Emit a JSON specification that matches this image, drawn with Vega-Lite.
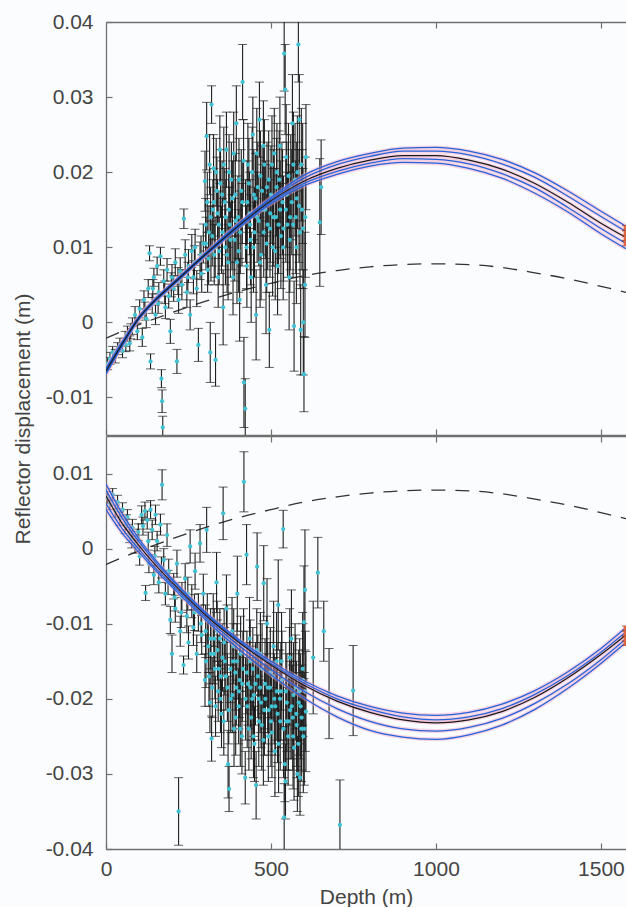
{
"$schema": "https://vega.github.io/schema/vega-lite/v6.json",
"background": "#fbfcfd",
"padding": {"left": 13, "top": 11, "right": 0, "bottom": 0},
"spacing": -3,
"title": {"text": "Reflector displacement (m)", "orient": "left", "anchor": "middle", "frame": "bounds", "fontSize": 21, "font": "Liberation Sans", "fontWeight": "normal", "color": "#444444", "offset": 11, "dx": 40},
"datasets": {
"ptsT": [{"d":5,"v":-0.0055,"e":0.0008},{"d":12,"v":-0.0048,"e":0.0008},{"d":20,"v":-0.004,"e":0.0008},{"d":28,"v":-0.0045,"e":0.0009},{"d":35,"v":-0.0035,"e":0.0008},{"d":42,"v":-0.003,"e":0.0009},{"d":50,"v":-0.0038,"e":0.0009},{"d":58,"v":-0.0022,"e":0.001},{"d":60,"v":-0.003,"e":0.0009},{"d":65,"v":-0.0015,"e":0.001},{"d":72,"v":-0.0028,"e":0.001},{"d":75,"v":-0.0012,"e":0.001},{"d":80,"v":-0.0005,"e":0.0011},{"d":88,"v":0.001,"e":0.0011},{"d":95,"v":-0.0012,"e":0.0011},{"d":102,"v":0.0018,"e":0.0012},{"d":110,"v":-0.002,"e":0.0012},{"d":115,"v":0.003,"e":0.0012},{"d":118,"v":0.0015,"e":0.0012},{"d":122,"v":0.0005,"e":0.0012},{"d":128,"v":0.0045,"e":0.0012},{"d":132,"v":0.0092,"e":0.001},{"d":135,"v":-0.0052,"e":0.001},{"d":140,"v":0.0025,"e":0.0013},{"d":142,"v":0.0045,"e":0.0012},{"d":145,"v":0.006,"e":0.0012},{"d":150,"v":0.001,"e":0.0013},{"d":155,"v":0.0075,"e":0.0012},{"d":158,"v":0.0025,"e":0.0013},{"d":160,"v":0.004,"e":0.0013},{"d":165,"v":0.0088,"e":0.0012},{"d":168,"v":-0.0075,"e":0.0012},{"d":170,"v":-0.0105,"e":0.0015},{"d":172,"v":-0.014,"e":0.0015},{"d":175,"v":0.0055,"e":0.0015},{"d":178,"v":0.004,"e":0.0015},{"d":180,"v":0.002,"e":0.0015},{"d":185,"v":0.007,"e":0.0015},{"d":190,"v":0.0035,"e":0.0016},{"d":195,"v":-0.0012,"e":0.0016},{"d":198,"v":0.005,"e":0.0016},{"d":200,"v":0.006,"e":0.0017},{"d":205,"v":0.0045,"e":0.0017},{"d":210,"v":0.008,"e":0.0018},{"d":215,"v":-0.0052,"e":0.0016},{"d":218,"v":0.0055,"e":0.0018},{"d":220,"v":0.003,"e":0.0018},{"d":225,"v":0.0068,"e":0.0018},{"d":230,"v":0.005,"e":0.002},{"d":236,"v":0.0138,"e":0.0013},{"d":240,"v":0.009,"e":0.002},{"d":245,"v":0.004,"e":0.002},{"d":248,"v":0.006,"e":0.002},{"d":250,"v":0.0075,"e":0.0022},{"d":255,"v":0.001,"e":0.002},{"d":260,"v":0.0095,"e":0.0022},{"d":265,"v":0.006,"e":0.0022},{"d":268,"v":0.008,"e":0.0022},{"d":270,"v":0.01,"e":0.0024},{"d":275,"v":0.0045,"e":0.0024},{"d":280,"v":-0.003,"e":0.0022},{"d":285,"v":0.0082,"e":0.0025},{"d":288,"v":0.009,"e":0.0025},{"d":290,"v":0.0065,"e":0.0025},{"d":295,"v":0.0105,"e":0.0026},{"d":300,"v":0.0188,"e":0.004},{"d":302,"v":0.013,"e":0.0035},{"d":305,"v":0.0248,"e":0.0045},{"d":308,"v":0.007,"e":0.003},{"d":312,"v":0.012,"e":0.0035},{"d":316,"v":-0.004,"e":0.004},{"d":318,"v":0.0095,"e":0.004},{"d":320,"v":0.029,"e":0.0025},{"d":324,"v":0.015,"e":0.004},{"d":326,"v":0.0205,"e":0.0045},{"d":328,"v":0.009,"e":0.004},{"d":332,"v":-0.005,"e":0.0035},{"d":336,"v":0.0175,"e":0.0045},{"d":340,"v":0.006,"e":0.004},{"d":342,"v":0.013,"e":0.0045},{"d":345,"v":0.023,"e":0.0045},{"d":350,"v":0.011,"e":0.0045},{"d":352,"v":0.017,"e":0.0045},{"d":355,"v":0.002,"e":0.005},{"d":360,"v":0.016,"e":0.0045},{"d":362,"v":0.01,"e":0.005},{"d":365,"v":0.023,"e":0.005},{"d":370,"v":0.008,"e":0.005},{"d":372,"v":0.015,"e":0.005},{"d":375,"v":0.013,"e":0.005},{"d":380,"v":0.019,"e":0.005},{"d":382,"v":0.012,"e":0.005},{"d":385,"v":0.006,"e":0.005},{"d":390,"v":0.011,"e":0.0055},{"d":392,"v":0.017,"e":0.0055},{"d":395,"v":0.0265,"e":0.005},{"d":400,"v":0.014,"e":0.0055},{"d":402,"v":0.0095,"e":0.0055},{"d":405,"v":0.003,"e":0.0055},{"d":410,"v":0.0175,"e":0.0055},{"d":412,"v":0.013,"e":0.0055},{"d":414,"v":0.032,"e":0.005},{"d":418,"v":-0.008,"e":0.006},{"d":422,"v":-0.0115,"e":0.004},{"d":426,"v":0.01,"e":0.0055},{"d":428,"v":0.016,"e":0.0055},{"d":430,"v":0.021,"e":0.0055},{"d":435,"v":0.0145,"e":0.0055},{"d":438,"v":0.011,"e":0.006},{"d":440,"v":0.006,"e":0.006},{"d":445,"v":0.025,"e":0.005},{"d":448,"v":0.017,"e":0.006},{"d":450,"v":0.012,"e":0.006},{"d":455,"v":0.001,"e":0.006},{"d":458,"v":0.014,"e":0.006},{"d":460,"v":0.018,"e":0.006},{"d":465,"v":0.027,"e":0.005},{"d":468,"v":0.0195,"e":0.006},{"d":470,"v":0.009,"e":0.006},{"d":475,"v":0.015,"e":0.006},{"d":478,"v":0.012,"e":0.006},{"d":480,"v":0.021,"e":0.006},{"d":485,"v":0.005,"e":0.0065},{"d":488,"v":0.018,"e":0.006},{"d":490,"v":0.013,"e":0.006},{"d":495,"v":-0.001,"e":0.005},{"d":498,"v":0.0145,"e":0.0065},{"d":500,"v":0.017,"e":0.0065},{"d":505,"v":0.01,"e":0.0065},{"d":508,"v":0.0165,"e":0.0065},{"d":510,"v":0.0225,"e":0.006},{"d":515,"v":0.014,"e":0.0065},{"d":518,"v":0.02,"e":0.0065},{"d":520,"v":0.0075,"e":0.0065},{"d":525,"v":0.019,"e":0.0065},{"d":528,"v":0.015,"e":0.0065},{"d":530,"v":0.0115,"e":0.007},{"d":535,"v":0.016,"e":0.007},{"d":538,"v":0.0125,"e":0.007},{"d":540,"v":0.0358,"e":0.005},{"d":543,"v":0.031,"e":0.006},{"d":546,"v":0.022,"e":0.007},{"d":548,"v":0.017,"e":0.007},{"d":550,"v":0.013,"e":0.007},{"d":555,"v":0.006,"e":0.007},{"d":558,"v":0.014,"e":0.007},{"d":560,"v":0.018,"e":0.007},{"d":565,"v":0.0265,"e":0.0065},{"d":568,"v":0.021,"e":0.007},{"d":570,"v":-0.0005,"e":0.006},{"d":575,"v":0.014,"e":0.0075},{"d":578,"v":0.0165,"e":0.0075},{"d":580,"v":0.02,"e":0.0075},{"d":583,"v":0.037,"e":0.005},{"d":586,"v":0.027,"e":0.006},{"d":588,"v":0.012,"e":0.0075},{"d":590,"v":-0.001,"e":0.006},{"d":594,"v":0.015,"e":0.008},{"d":596,"v":0.0185,"e":0.008},{"d":598,"v":0.0,"e":0.007},{"d":600,"v":-0.0069,"e":0.005},{"d":603,"v":0.005,"e":0.007},{"d":604,"v":0.014,"e":0.008},{"d":606,"v":0.022,"e":0.007},{"d":648,"v":0.0133,"e":0.0085},{"d":652,"v":0.018,"e":0.0063},
{"d":303,"v":0.0105,"e":0.0035},{"d":307,"v":0.016,"e":0.004},{"d":311,"v":0.0085,"e":0.0035},{"d":314,"v":0.021,"e":0.004},{"d":317,"v":0.014,"e":0.004},{"d":322,"v":0.0115,"e":0.004},{"d":327,"v":0.016,"e":0.0045},{"d":331,"v":0.01,"e":0.004},{"d":334,"v":0.02,"e":0.0045},{"d":338,"v":0.0145,"e":0.0045},{"d":343,"v":0.0095,"e":0.0045},{"d":347,"v":0.0185,"e":0.0045},{"d":353,"v":0.012,"e":0.0045},{"d":357,"v":0.021,"e":0.005},{"d":363,"v":0.014,"e":0.005},{"d":367,"v":0.009,"e":0.005},{"d":373,"v":0.02,"e":0.005},{"d":377,"v":0.011,"e":0.005},{"d":383,"v":0.0165,"e":0.005},{"d":387,"v":0.0225,"e":0.0055},{"d":393,"v":0.0135,"e":0.0055},{"d":397,"v":0.008,"e":0.0055},{"d":403,"v":0.019,"e":0.0055},{"d":407,"v":0.012,"e":0.0055},{"d":413,"v":0.016,"e":0.0055},{"d":417,"v":0.0215,"e":0.0055},{"d":423,"v":0.0135,"e":0.0055},{"d":427,"v":0.0075,"e":0.0055},{"d":433,"v":0.0185,"e":0.006},{"d":437,"v":0.013,"e":0.006},{"d":443,"v":0.02,"e":0.006},{"d":447,"v":0.01,"e":0.006},{"d":453,"v":0.0165,"e":0.006},{"d":457,"v":0.0225,"e":0.006},{"d":463,"v":0.0135,"e":0.006},{"d":467,"v":0.008,"e":0.006},{"d":473,"v":0.0175,"e":0.006},{"d":477,"v":0.0235,"e":0.006},{"d":483,"v":0.015,"e":0.0065},{"d":487,"v":0.0105,"e":0.0065},{"d":493,"v":0.019,"e":0.0065},{"d":497,"v":0.0125,"e":0.0065},{"d":503,"v":0.021,"e":0.0065},{"d":507,"v":0.014,"e":0.0065},{"d":513,"v":0.0095,"e":0.0065},{"d":517,"v":0.018,"e":0.0065},{"d":523,"v":0.013,"e":0.0065},{"d":527,"v":0.0235,"e":0.0065},{"d":533,"v":0.017,"e":0.007},{"d":537,"v":0.01,"e":0.007},{"d":545,"v":0.015,"e":0.007},{"d":553,"v":0.0195,"e":0.007},{"d":557,"v":0.011,"e":0.007},{"d":563,"v":0.016,"e":0.007},{"d":567,"v":0.013,"e":0.007},{"d":573,"v":0.019,"e":0.0075},{"d":577,"v":0.01,"e":0.0075},{"d":585,"v":0.0155,"e":0.0075},{"d":592,"v":0.021,"e":0.0075},{"d":597,"v":0.0125,"e":0.008}],
"ptsB": [{"d":5,"v":0.0068,"e":0.0008},{"d":12,"v":0.006,"e":0.0008},{"d":20,"v":0.0072,"e":0.0008},{"d":28,"v":0.005,"e":0.0008},{"d":35,"v":0.0062,"e":0.0009},{"d":42,"v":0.004,"e":0.0009},{"d":50,"v":0.0052,"e":0.0009},{"d":58,"v":0.003,"e":0.001},{"d":62,"v":0.0035,"e":0.001},{"d":65,"v":0.0042,"e":0.001},{"d":72,"v":0.0018,"e":0.001},{"d":78,"v":0.0012,"e":0.0011},{"d":80,"v":0.0028,"e":0.0011},{"d":88,"v":0.0005,"e":0.0011},{"d":95,"v":0.0015,"e":0.0011},{"d":98,"v":0.0022,"e":0.0011},{"d":102,"v":-0.001,"e":0.0012},{"d":108,"v":0.0045,"e":0.0012},{"d":112,"v":0.003,"e":0.0012},{"d":118,"v":0.005,"e":0.0012},{"d":120,"v":-0.0059,"e":0.001},{"d":125,"v":0.0038,"e":0.0012},{"d":128,"v":0.001,"e":0.0012},{"d":130,"v":-0.002,"e":0.0012},{"d":135,"v":0.0052,"e":0.0012},{"d":140,"v":0.0025,"e":0.0013},{"d":145,"v":-0.0035,"e":0.0013},{"d":148,"v":-0.001,"e":0.0013},{"d":150,"v":0.0045,"e":0.0013},{"d":155,"v":0.001,"e":0.0013},{"d":160,"v":-0.0045,"e":0.0014},{"d":165,"v":0.0032,"e":0.0014},{"d":168,"v":-0.0025,"e":0.0014},{"d":170,"v":0.0085,"e":0.002},{"d":175,"v":-0.0015,"e":0.0015},{"d":180,"v":-0.006,"e":0.0015},{"d":185,"v":0.0018,"e":0.0015},{"d":188,"v":-0.0045,"e":0.0016},{"d":190,"v":-0.003,"e":0.0016},{"d":195,"v":-0.0095,"e":0.0018},{"d":200,"v":-0.014,"e":0.0025},{"d":205,"v":-0.005,"e":0.0017},{"d":208,"v":-0.0065,"e":0.0018},{"d":210,"v":-0.008,"e":0.0018},{"d":215,"v":-0.002,"e":0.0018},{"d":220,"v":-0.035,"e":0.0045},{"d":225,"v":-0.011,"e":0.002},{"d":228,"v":-0.0085,"e":0.002},{"d":230,"v":-0.0065,"e":0.002},{"d":235,"v":-0.0155,"e":0.0012},{"d":240,"v":-0.004,"e":0.002},{"d":245,"v":-0.009,"e":0.0022},{"d":248,"v":-0.006,"e":0.0022},{"d":250,"v":-0.0125,"e":0.0022},{"d":255,"v":0.0003,"e":0.0022},{"d":260,"v":-0.007,"e":0.0022},{"d":265,"v":-0.0105,"e":0.0024},{"d":268,"v":-0.0085,"e":0.0024},{"d":270,"v":-0.003,"e":0.0024},{"d":275,"v":-0.014,"e":0.0025},{"d":280,"v":-0.0085,"e":0.0025},{"d":285,"v":0.0007,"e":0.0025},{"d":288,"v":-0.01,"e":0.0025},{"d":290,"v":-0.0115,"e":0.0026},{"d":295,"v":-0.006,"e":0.0026},{"d":300,"v":-0.0175,"e":0.0035},{"d":302,"v":-0.011,"e":0.0035},{"d":305,"v":0.0025,"e":0.003},{"d":310,"v":-0.013,"e":0.0035},{"d":315,"v":-0.0205,"e":0.004},{"d":318,"v":-0.014,"e":0.004},{"d":320,"v":-0.0253,"e":0.003},{"d":325,"v":-0.0095,"e":0.0035},{"d":328,"v":-0.012,"e":0.004},{"d":330,"v":-0.016,"e":0.004},{"d":335,"v":-0.0045,"e":0.004},{"d":338,"v":-0.0135,"e":0.004},{"d":340,"v":-0.019,"e":0.004},{"d":345,"v":-0.012,"e":0.004},{"d":348,"v":-0.017,"e":0.0045},{"d":350,"v":-0.022,"e":0.0045},{"d":355,"v":0.0047,"e":0.0035},{"d":358,"v":-0.0125,"e":0.0045},{"d":360,"v":-0.015,"e":0.0045},{"d":365,"v":-0.008,"e":0.0045},{"d":368,"v":-0.0185,"e":0.0045},{"d":370,"v":-0.0287,"e":0.0045},{"d":373,"v":-0.032,"e":0.003},{"d":378,"v":-0.02,"e":0.0045},{"d":382,"v":-0.011,"e":0.0045},{"d":385,"v":-0.015,"e":0.005},{"d":388,"v":-0.024,"e":0.005},{"d":392,"v":-0.0165,"e":0.005},{"d":395,"v":-0.0185,"e":0.005},{"d":398,"v":-0.006,"e":0.005},{"d":402,"v":-0.021,"e":0.005},{"d":405,"v":-0.0175,"e":0.005},{"d":408,"v":-0.014,"e":0.005},{"d":412,"v":-0.025,"e":0.005},{"d":415,"v":-0.016,"e":0.005},{"d":418,"v":0.0089,"e":0.004},{"d":422,"v":-0.0305,"e":0.0035},{"d":426,"v":-0.0008,"e":0.004},{"d":428,"v":-0.021,"e":0.0055},{"d":430,"v":-0.018,"e":0.0055},{"d":435,"v":-0.012,"e":0.0055},{"d":438,"v":-0.0185,"e":0.0055},{"d":440,"v":-0.0225,"e":0.0055},{"d":445,"v":-0.016,"e":0.0055},{"d":448,"v":-0.0195,"e":0.0055},{"d":450,"v":-0.026,"e":0.005},{"d":455,"v":-0.0315,"e":0.0045},{"d":458,"v":-0.0024,"e":0.0045},{"d":460,"v":-0.017,"e":0.0055},{"d":462,"v":-0.02,"e":0.0055},{"d":468,"v":-0.014,"e":0.0055},{"d":470,"v":-0.0205,"e":0.006},{"d":472,"v":-0.0235,"e":0.006},{"d":478,"v":-0.0046,"e":0.005},{"d":480,"v":-0.0215,"e":0.006},{"d":482,"v":-0.018,"e":0.006},{"d":488,"v":-0.01,"e":0.006},{"d":490,"v":-0.0185,"e":0.006},{"d":492,"v":-0.025,"e":0.006},{"d":498,"v":-0.0165,"e":0.006},{"d":500,"v":-0.023,"e":0.006},{"d":502,"v":-0.021,"e":0.006},{"d":508,"v":-0.013,"e":0.006},{"d":510,"v":-0.02,"e":0.006},{"d":512,"v":-0.027,"e":0.006},{"d":518,"v":-0.019,"e":0.0065},{"d":520,"v":-0.022,"e":0.0065},{"d":522,"v":-0.0075,"e":0.006},{"d":528,"v":-0.023,"e":0.0065},{"d":530,"v":-0.019,"e":0.0065},{"d":532,"v":-0.015,"e":0.0065},{"d":537,"v":0.0026,"e":0.0025},{"d":540,"v":-0.0358,"e":0.0045},{"d":542,"v":-0.0287,"e":0.005},{"d":544,"v":-0.031,"e":0.005},{"d":546,"v":-0.023,"e":0.0065},{"d":548,"v":-0.0205,"e":0.0065},{"d":552,"v":-0.025,"e":0.0065},{"d":556,"v":-0.017,"e":0.0065},{"d":558,"v":-0.0215,"e":0.0065},{"d":562,"v":-0.012,"e":0.0065},{"d":566,"v":-0.0225,"e":0.007},{"d":568,"v":-0.0195,"e":0.007},{"d":570,"v":-0.0265,"e":0.007},{"d":575,"v":-0.0185,"e":0.007},{"d":578,"v":-0.0235,"e":0.007},{"d":580,"v":-0.03,"e":0.005},{"d":584,"v":-0.0205,"e":0.007},{"d":588,"v":-0.0305,"e":0.005},{"d":590,"v":-0.021,"e":0.007},{"d":592,"v":-0.024,"e":0.007},{"d":596,"v":-0.016,"e":0.0075},{"d":598,"v":-0.025,"e":0.0075},{"d":600,"v":-0.0098,"e":0.0075},{"d":603,"v":-0.0055,"e":0.008},{"d":604,"v":-0.019,"e":0.008},{"d":606,"v":-0.0217,"e":0.008},{"d":628,"v":-0.0145,"e":0.0075},{"d":642,"v":-0.0032,"e":0.0047},{"d":660,"v":-0.011,"e":0.004},{"d":676,"v":-0.0193,"e":0.006},{"d":709,"v":-0.0368,"e":0.006},{"d":749,"v":-0.0189,"e":0.006},
{"d":303,"v":-0.015,"e":0.0035},{"d":307,"v":-0.0095,"e":0.0035},{"d":312,"v":-0.017,"e":0.004},{"d":317,"v":-0.012,"e":0.004},{"d":322,"v":-0.0185,"e":0.004},{"d":327,"v":-0.014,"e":0.004},{"d":332,"v":-0.021,"e":0.004},{"d":337,"v":-0.011,"e":0.004},{"d":342,"v":-0.016,"e":0.0045},{"d":347,"v":-0.02,"e":0.0045},{"d":353,"v":-0.0145,"e":0.0045},{"d":357,"v":-0.023,"e":0.0045},{"d":363,"v":-0.017,"e":0.0045},{"d":367,"v":-0.012,"e":0.0045},{"d":372,"v":-0.0215,"e":0.0045},{"d":377,"v":-0.016,"e":0.0045},{"d":383,"v":-0.0195,"e":0.005},{"d":387,"v":-0.013,"e":0.005},{"d":393,"v":-0.0225,"e":0.005},{"d":397,"v":-0.015,"e":0.005},{"d":403,"v":-0.019,"e":0.005},{"d":407,"v":-0.024,"e":0.005},{"d":413,"v":-0.018,"e":0.005},{"d":417,"v":-0.013,"e":0.005},{"d":423,"v":-0.02,"e":0.0055},{"d":427,"v":-0.0165,"e":0.0055},{"d":433,"v":-0.024,"e":0.0055},{"d":437,"v":-0.015,"e":0.0055},{"d":443,"v":-0.02,"e":0.0055},{"d":447,"v":-0.025,"e":0.0055},{"d":453,"v":-0.018,"e":0.0055},{"d":457,"v":-0.0135,"e":0.0055},{"d":463,"v":-0.023,"e":0.006},{"d":467,"v":-0.0185,"e":0.006},{"d":473,"v":-0.016,"e":0.006},{"d":477,"v":-0.0255,"e":0.006},{"d":483,"v":-0.02,"e":0.006},{"d":487,"v":-0.015,"e":0.006},{"d":493,"v":-0.0215,"e":0.006},{"d":497,"v":-0.0185,"e":0.006},{"d":503,"v":-0.0245,"e":0.006},{"d":507,"v":-0.017,"e":0.006},{"d":513,"v":-0.021,"e":0.0065},{"d":517,"v":-0.015,"e":0.0065},{"d":523,"v":-0.026,"e":0.0065},{"d":527,"v":-0.02,"e":0.0065},{"d":533,"v":-0.0175,"e":0.0065},{"d":538,"v":-0.024,"e":0.0065},{"d":545,"v":-0.019,"e":0.0065},{"d":553,"v":-0.023,"e":0.0065},{"d":557,"v":-0.0145,"e":0.0065},{"d":563,"v":-0.021,"e":0.007},{"d":567,"v":-0.025,"e":0.007},{"d":573,"v":-0.017,"e":0.007},{"d":577,"v":-0.022,"e":0.007},{"d":583,"v":-0.026,"e":0.007},{"d":587,"v":-0.019,"e":0.007},{"d":593,"v":-0.0225,"e":0.007},{"d":597,"v":-0.0175,"e":0.0075},{"d":601,"v":-0.024,"e":0.0075}],
"crvT": [
{"m":"k","d":0,"v":-0.0065},{"m":"k","d":50,"v":-0.0028},{"m":"k","d":100,"v":0.0006},{"m":"k","d":150,"v":0.003},{"m":"k","d":200,"v":0.005},{"m":"k","d":300,"v":0.009},{"m":"k","d":400,"v":0.0128},{"m":"k","d":500,"v":0.0162},{"m":"k","d":600,"v":0.0188},{"m":"k","d":700,"v":0.0205},{"m":"k","d":800,"v":0.0216},{"m":"k","d":900,"v":0.0222},{"m":"k","d":1000,"v":0.0222},{"m":"k","d":1100,"v":0.0216},{"m":"k","d":1200,"v":0.0204},{"m":"k","d":1300,"v":0.0185},{"m":"k","d":1400,"v":0.016},{"m":"k","d":1500,"v":0.0132},{"m":"k","d":1576,"v":0.0113},
{"m":"a","d":0,"v":-0.0061},{"m":"a","d":50,"v":-0.0025},{"m":"a","d":100,"v":0.0008},{"m":"a","d":150,"v":0.0032},{"m":"a","d":200,"v":0.0052},{"m":"a","d":300,"v":0.0092},{"m":"a","d":400,"v":0.0131},{"m":"a","d":500,"v":0.0166},{"m":"a","d":600,"v":0.0196},{"m":"a","d":700,"v":0.0214},{"m":"a","d":800,"v":0.0225},{"m":"a","d":900,"v":0.0232},{"m":"a","d":1000,"v":0.0233},{"m":"a","d":1100,"v":0.0228},{"m":"a","d":1200,"v":0.0217},{"m":"a","d":1300,"v":0.0199},{"m":"a","d":1400,"v":0.0175},{"m":"a","d":1500,"v":0.0148},{"m":"a","d":1576,"v":0.0128},
{"m":"b","d":0,"v":-0.0063},{"m":"b","d":50,"v":-0.0026},{"m":"b","d":100,"v":0.0007},{"m":"b","d":150,"v":0.0031},{"m":"b","d":200,"v":0.0051},{"m":"b","d":300,"v":0.0091},{"m":"b","d":400,"v":0.013},{"m":"b","d":500,"v":0.0164},{"m":"b","d":600,"v":0.0192},{"m":"b","d":700,"v":0.021},{"m":"b","d":800,"v":0.0221},{"m":"b","d":900,"v":0.0228},{"m":"b","d":1000,"v":0.0228},{"m":"b","d":1100,"v":0.0223},{"m":"b","d":1200,"v":0.0211},{"m":"b","d":1300,"v":0.0193},{"m":"b","d":1400,"v":0.0168},{"m":"b","d":1500,"v":0.0141},{"m":"b","d":1576,"v":0.0121},
{"m":"c","d":0,"v":-0.0067},{"m":"c","d":50,"v":-0.0029},{"m":"c","d":100,"v":0.0005},{"m":"c","d":150,"v":0.0029},{"m":"c","d":200,"v":0.0049},{"m":"c","d":300,"v":0.0089},{"m":"c","d":400,"v":0.0127},{"m":"c","d":500,"v":0.016},{"m":"c","d":600,"v":0.0185},{"m":"c","d":700,"v":0.0201},{"m":"c","d":800,"v":0.0212},{"m":"c","d":900,"v":0.0218},{"m":"c","d":1000,"v":0.0217},{"m":"c","d":1100,"v":0.0211},{"m":"c","d":1200,"v":0.0198},{"m":"c","d":1300,"v":0.0179},{"m":"c","d":1400,"v":0.0153},{"m":"c","d":1500,"v":0.0125},{"m":"c","d":1576,"v":0.0105},
{"m":"d","d":0,"v":-0.0069},{"m":"d","d":50,"v":-0.0031},{"m":"d","d":100,"v":0.0004},{"m":"d","d":150,"v":0.0028},{"m":"d","d":200,"v":0.0048},{"m":"d","d":300,"v":0.0088},{"m":"d","d":400,"v":0.0125},{"m":"d","d":500,"v":0.0158},{"m":"d","d":600,"v":0.0182},{"m":"d","d":700,"v":0.0197},{"m":"d","d":800,"v":0.0208},{"m":"d","d":900,"v":0.0213},{"m":"d","d":1000,"v":0.0212},{"m":"d","d":1100,"v":0.0205},{"m":"d","d":1200,"v":0.0192},{"m":"d","d":1300,"v":0.0172},{"m":"d","d":1400,"v":0.0147},{"m":"d","d":1500,"v":0.0118},{"m":"d","d":1576,"v":0.0098}],
"crvB": [
{"m":"k","d":0,"v":0.007},{"m":"k","d":50,"v":0.0033},{"m":"k","d":100,"v":0.0004},{"m":"k","d":150,"v":-0.0022},{"m":"k","d":200,"v":-0.0045},{"m":"k","d":300,"v":-0.0088},{"m":"k","d":400,"v":-0.0124},{"m":"k","d":500,"v":-0.0155},{"m":"k","d":600,"v":-0.0182},{"m":"k","d":700,"v":-0.0203},{"m":"k","d":800,"v":-0.0218},{"m":"k","d":900,"v":-0.0228},{"m":"k","d":1000,"v":-0.0232},{"m":"k","d":1100,"v":-0.0228},{"m":"k","d":1200,"v":-0.0217},{"m":"k","d":1300,"v":-0.0198},{"m":"k","d":1400,"v":-0.0172},{"m":"k","d":1500,"v":-0.0141},{"m":"k","d":1576,"v":-0.0115},
{"m":"a","d":0,"v":0.0086},{"m":"a","d":50,"v":0.0046},{"m":"a","d":100,"v":0.0013},{"m":"a","d":150,"v":-0.0015},{"m":"a","d":200,"v":-0.004},{"m":"a","d":300,"v":-0.0084},{"m":"a","d":400,"v":-0.012},{"m":"a","d":500,"v":-0.015},{"m":"a","d":600,"v":-0.0176},{"m":"a","d":700,"v":-0.0196},{"m":"a","d":800,"v":-0.021},{"m":"a","d":900,"v":-0.0219},{"m":"a","d":1000,"v":-0.0222},{"m":"a","d":1100,"v":-0.0218},{"m":"a","d":1200,"v":-0.0207},{"m":"a","d":1300,"v":-0.0189},{"m":"a","d":1400,"v":-0.0164},{"m":"a","d":1500,"v":-0.0133},{"m":"a","d":1576,"v":-0.0105},
{"m":"b","d":0,"v":0.0078},{"m":"b","d":50,"v":0.004},{"m":"b","d":100,"v":0.0009},{"m":"b","d":150,"v":-0.0018},{"m":"b","d":200,"v":-0.0042},{"m":"b","d":300,"v":-0.0086},{"m":"b","d":400,"v":-0.0122},{"m":"b","d":500,"v":-0.0153},{"m":"b","d":600,"v":-0.0179},{"m":"b","d":700,"v":-0.02},{"m":"b","d":800,"v":-0.0214},{"m":"b","d":900,"v":-0.0224},{"m":"b","d":1000,"v":-0.0228},{"m":"b","d":1100,"v":-0.0224},{"m":"b","d":1200,"v":-0.0213},{"m":"b","d":1300,"v":-0.0194},{"m":"b","d":1400,"v":-0.0169},{"m":"b","d":1500,"v":-0.0138},{"m":"b","d":1576,"v":-0.0111},
{"m":"c","d":0,"v":0.006},{"m":"c","d":50,"v":0.0026},{"m":"c","d":100,"v":-0.0001},{"m":"c","d":150,"v":-0.0026},{"m":"c","d":200,"v":-0.0048},{"m":"c","d":300,"v":-0.0091},{"m":"c","d":400,"v":-0.0128},{"m":"c","d":500,"v":-0.0161},{"m":"c","d":600,"v":-0.019},{"m":"c","d":700,"v":-0.0213},{"m":"c","d":800,"v":-0.023},{"m":"c","d":900,"v":-0.024},{"m":"c","d":1000,"v":-0.0243},{"m":"c","d":1100,"v":-0.0238},{"m":"c","d":1200,"v":-0.0226},{"m":"c","d":1300,"v":-0.0206},{"m":"c","d":1400,"v":-0.018},{"m":"c","d":1500,"v":-0.0148},{"m":"c","d":1576,"v":-0.012},
{"m":"d","d":0,"v":0.0052},{"m":"d","d":50,"v":0.002},{"m":"d","d":100,"v":-0.0005},{"m":"d","d":150,"v":-0.0029},{"m":"d","d":200,"v":-0.0051},{"m":"d","d":300,"v":-0.0094},{"m":"d","d":400,"v":-0.0133},{"m":"d","d":500,"v":-0.0168},{"m":"d","d":600,"v":-0.0199},{"m":"d","d":700,"v":-0.0224},{"m":"d","d":800,"v":-0.0242},{"m":"d","d":900,"v":-0.0251},{"m":"d","d":1000,"v":-0.0254},{"m":"d","d":1100,"v":-0.0248},{"m":"d","d":1200,"v":-0.0235},{"m":"d","d":1300,"v":-0.0214},{"m":"d","d":1400,"v":-0.0186},{"m":"d","d":1500,"v":-0.0153},{"m":"d","d":1576,"v":-0.0125}],
"dash": [{"d":0,"v":-0.0021},{"d":100,"v":-0.0003},{"d":200,"v":0.0013},{"d":300,"v":0.0028},{"d":400,"v":0.0041},{"d":500,"v":0.0052},{"d":600,"v":0.0062},{"d":700,"v":0.0069},{"d":800,"v":0.0074},{"d":900,"v":0.0077},{"d":1000,"v":0.0078},{"d":1100,"v":0.0077},{"d":1200,"v":0.0073},{"d":1300,"v":0.0066},{"d":1400,"v":0.0058},{"d":1500,"v":0.0048},{"d":1576,"v":0.004}],
"redT": [{"d":1576,"v":0.0105,"e":0.0003},{"d":1576,"v":0.0112,"e":0.0003},{"d":1576,"v":0.0119,"e":0.0003},{"d":1576,"v":0.0126,"e":0.0003}],
"redB": [{"d":1576,"v":-0.0106,"e":0.0003},{"d":1576,"v":-0.0113,"e":0.0003},{"d":1576,"v":-0.012,"e":0.0003},{"d":1576,"v":-0.0126,"e":0.0003}]
},
"vconcat": [
{
"width": 520, "height": 413,
"resolve": {"axis": {"x": "independent"}},
"encoding": {
 "x": {"field": "d", "type": "quantitative", "scale": {"domain": [0, 1576], "nice": false, "zero": false}, "axis": null},
 "y": {"field": "v", "type": "quantitative", "scale": {"domain": [-0.015, 0.04], "nice": false, "zero": false}, "axis": {"orient": "left", "values": [-0.01, 0, 0.01, 0.02, 0.03, 0.04], "labelExpr": "'' + datum.value", "title": null, "labelPadding": 19}}
},
"layer": [
 {"data": {"name": "dash"}, "mark": {"type": "line", "color": "#333333", "strokeWidth": 1.3, "strokeDash": [14, 10], "interpolate": "monotone", "clip": true},
  "encoding": {"x": {"field": "d", "type": "quantitative", "scale": {"domain": [0, 1576], "nice": false, "zero": false}, "axis": {"orient": "top", "values": [500, 1000, 1500], "labels": false, "title": null}}}},
 {"data": {"name": "ptsT"}, "mark": {"type": "errorbar", "ticks": {"size": 9, "color": "#1e1e1e"}, "rule": {"color": "#1e1e1e", "strokeWidth": 1.1}, "clip": true}, "encoding": {"yError": {"field": "e"}}},
 {"data": {"name": "ptsT"}, "mark": {"type": "circle", "size": 18, "color": "#3ec2d3", "opacity": 1, "clip": true},
  "encoding": {"x": {"field": "d", "type": "quantitative", "scale": {"domain": [0, 1576], "nice": false, "zero": false}, "axis": {"orient": "bottom", "values": [0, 500, 1000, 1500], "labels": false, "title": null}}}},
 {"data": {"name": "crvT"}, "mark": {"type": "line", "color": "#f2a3c4", "strokeWidth": 4, "opacity": 0.45, "interpolate": "monotone", "clip": true}, "encoding": {"detail": {"field": "m"}}},
 {"data": {"name": "crvT"}, "transform": [{"filter": "datum.m != 'k'"}], "mark": {"type": "line", "color": "#2463da", "strokeWidth": 1.3, "interpolate": "monotone", "clip": true}, "encoding": {"detail": {"field": "m"}}},
 {"data": {"name": "crvT"}, "transform": [{"filter": "datum.m == 'k'"}], "mark": {"type": "line", "color": "#1a1a1a", "strokeWidth": 1.2, "interpolate": "monotone", "clip": true}, "encoding": {}},
 {"data": {"name": "redT"}, "mark": {"type": "errorbar", "ticks": {"size": 8, "color": "#7a3020"}, "rule": {"color": "#7a3020"}, "clip": true}, "encoding": {"yError": {"field": "e"}}},
 {"data": {"name": "redT"}, "mark": {"type": "square", "size": 22, "color": "#e0663f", "opacity": 1, "clip": true}, "encoding": {}}
]
},
{
"width": 520, "height": 413,
"resolve": {"axis": {"x": "independent"}},
"encoding": {
 "x": {"field": "d", "type": "quantitative", "scale": {"domain": [0, 1576], "nice": false, "zero": false}, "axis": null},
 "y": {"field": "v", "type": "quantitative", "scale": {"domain": [-0.04, 0.015], "nice": false, "zero": false}, "axis": {"orient": "left", "values": [-0.04, -0.03, -0.02, -0.01, 0, 0.01], "labelExpr": "'' + datum.value", "title": null, "labelPadding": 19}}
},
"layer": [
 {"data": {"name": "dash"}, "mark": {"type": "line", "color": "#333333", "strokeWidth": 1.3, "strokeDash": [14, 10], "interpolate": "monotone", "clip": true},
  "encoding": {"x": {"field": "d", "type": "quantitative", "scale": {"domain": [0, 1576], "nice": false, "zero": false}, "axis": {"orient": "top", "values": [500, 1000, 1500], "labels": false, "title": null}}}},
 {"data": {"name": "ptsB"}, "mark": {"type": "errorbar", "ticks": {"size": 9, "color": "#1e1e1e"}, "rule": {"color": "#1e1e1e", "strokeWidth": 1.1}, "clip": true}, "encoding": {"yError": {"field": "e"}}},
 {"data": {"name": "ptsB"}, "mark": {"type": "circle", "size": 18, "color": "#3ec2d3", "opacity": 1, "clip": true},
  "encoding": {"x": {"field": "d", "type": "quantitative", "scale": {"domain": [0, 1576], "nice": false, "zero": false}, "axis": {"orient": "bottom", "values": [0, 500, 1000, 1500], "format": "d", "title": "Depth (m)"}}}},
 {"data": {"name": "crvB"}, "mark": {"type": "line", "color": "#f2a3c4", "strokeWidth": 4, "opacity": 0.45, "interpolate": "monotone", "clip": true}, "encoding": {"detail": {"field": "m"}}},
 {"data": {"name": "crvB"}, "transform": [{"filter": "datum.m != 'k'"}], "mark": {"type": "line", "color": "#2463da", "strokeWidth": 1.3, "interpolate": "monotone", "clip": true}, "encoding": {"detail": {"field": "m"}}},
 {"data": {"name": "crvB"}, "transform": [{"filter": "datum.m == 'k'"}], "mark": {"type": "line", "color": "#1a1a1a", "strokeWidth": 1.2, "interpolate": "monotone", "clip": true}, "encoding": {}},
 {"data": {"name": "redB"}, "mark": {"type": "errorbar", "ticks": {"size": 8, "color": "#7a3020"}, "rule": {"color": "#7a3020"}, "clip": true}, "encoding": {"yError": {"field": "e"}}},
 {"data": {"name": "redB"}, "mark": {"type": "square", "size": 22, "color": "#e0663f", "opacity": 1, "clip": true}, "encoding": {}}
]
}
],
"config": {
 "view": {"stroke": null},
 "font": "Liberation Sans",
 "axis": {"domainColor": "#707070", "domainWidth": 1.3, "tickColor": "#707070", "tickWidth": 1.2, "tickSize": -6, "labelFont": "Liberation Sans", "labelFontSize": 21, "labelColor": "#444444", "titleFont": "Liberation Sans", "titleFontSize": 21, "titleFontWeight": "normal", "titleColor": "#444444", "grid": false, "labelFlush": false, "labelOverlap": false, "labelPadding": 15},
 "axisX": {"titlePadding": 7}
}
}
